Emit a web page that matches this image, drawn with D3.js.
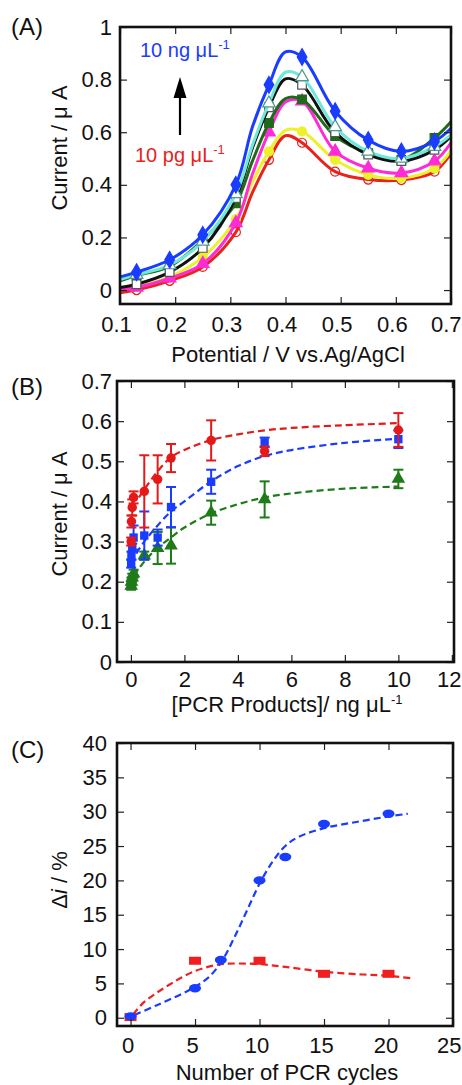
<!DOCTYPE html>
<html>
<head>
<meta charset="utf-8">
<title>PCR products voltammetry panels</title>
<script src="https://d3js.org/d3.v7.min.js"></script>
<style>
    body { margin: 0; background: #fff; }
    text { font-family: "Liberation Sans", Arial, sans-serif; fill: #111; }
    .tick text { font-size: 22px; }
    .axis-title { font-size: 22px; }
    .panel-label { font-size: 24px; }
</style>
</head>
<body>
<svg width="462" height="1085"></svg>
<script>
// ---------- panel A : DPV curves ----------
var potential = [0.10, 0.13, 0.19, 0.25, 0.31, 0.34, 0.37, 0.40, 0.43, 0.49, 0.55, 0.61, 0.67, 0.70];
var markerPotential = [0.13, 0.19, 0.25, 0.31, 0.37, 0.43, 0.49, 0.55, 0.61, 0.67];
var curveRed     = [-0.01, 0.000, 0.035, 0.088, 0.220, 0.370, 0.495, 0.587, 0.560, 0.450, 0.420, 0.418, 0.450, 0.520];
var curveYellow  = [0.000, 0.012, 0.050, 0.125, 0.270, 0.410, 0.527, 0.607, 0.603, 0.495, 0.438, 0.425, 0.463, 0.530];
var curveMagenta = [0.000, 0.010, 0.045, 0.100, 0.255, 0.440, 0.600, 0.715, 0.718, 0.527, 0.463, 0.445, 0.490, 0.560];
var curveGreen   = [0.035, 0.055, 0.090, 0.190, 0.330, 0.490, 0.635, 0.728, 0.725, 0.585, 0.520, 0.495, 0.578, 0.640];
var curveBlack   = [0.010, 0.022, 0.068, 0.160, 0.350, 0.540, 0.695, 0.803, 0.780, 0.600, 0.515, 0.490, 0.533, 0.585];
var curveCyan    = [0.040, 0.058, 0.095, 0.185, 0.365, 0.550, 0.710, 0.828, 0.810, 0.620, 0.527, 0.500, 0.545, 0.590];
var curveBlue    = [0.050, 0.068, 0.115, 0.210, 0.400, 0.620, 0.780, 0.905, 0.886, 0.680, 0.570, 0.527, 0.565, 0.615];
var aXTicks = [0.1, 0.2, 0.3, 0.4, 0.5, 0.6, 0.7];
var aXLabels = ["0.1", "0.2", "0.3", "0.4", "0.5", "0.6", "0.7"];
var aYTicks = [0, 0.2, 0.4, 0.6, 0.8, 1];
var aYLabels = ["0", "0.2", "0.4", "0.6", "0.8", "1"];

// ---------- panel B : calibration ----------
var concRed   = [0.01, 0.02, 0.05, 0.1, 0.5, 1, 1.5, 3, 5, 10];
var currRed   = [0.300, 0.350, 0.385, 0.410, 0.425, 0.455, 0.508, 0.552, 0.525, 0.578];
var errRed    = [0.010, 0.015, 0.020, 0.015, 0.090, 0.060, 0.035, 0.050, 0.012, 0.042];
var concBlue  = [0.01, 0.02, 0.05, 0.1, 0.5, 1, 1.5, 3, 5, 10];
var currBlue  = [0.245, 0.265, 0.285, 0.310, 0.315, 0.310, 0.386, 0.449, 0.547, 0.555];
var errBlue   = [0.010, 0.010, 0.010, 0.030, 0.060, 0.020, 0.050, 0.030, 0.012, 0.022];
var concGreen = [0.01, 0.02, 0.05, 0.1, 0.5, 1, 1.5, 3, 5, 10];
var currGreen = [0.190, 0.200, 0.210, 0.220, 0.265, 0.284, 0.290, 0.372, 0.405, 0.456];
var errGreen  = [0.010, 0.010, 0.010, 0.010, 0.010, 0.040, 0.045, 0.030, 0.045, 0.023];
var fitConcRed   = [0.3, 0.5, 1, 1.5, 2, 3, 4, 5, 6, 8, 10];
var fitRed       = [0.410, 0.430, 0.475, 0.510, 0.528, 0.553, 0.567, 0.577, 0.583, 0.590, 0.595];
var fitConcBlue  = [0.2, 0.5, 1, 1.5, 2, 3, 4, 5, 6, 8, 10];
var fitBlue      = [0.270, 0.300, 0.340, 0.375, 0.400, 0.450, 0.488, 0.513, 0.528, 0.546, 0.556];
var fitConcGreen = [0.1, 0.5, 1, 1.5, 2, 3, 4, 5, 6, 8, 10];
var fitGreen     = [0.215, 0.250, 0.285, 0.310, 0.335, 0.370, 0.393, 0.410, 0.420, 0.432, 0.437];
var bXTicks = [0, 2, 4, 6, 8, 10, 12];
var bXLabels = ["0", "2", "4", "6", "8", "10", "12"];
var bYTicks = [0, 0.1, 0.2, 0.3, 0.4, 0.5, 0.6, 0.7];
var bYLabels = ["0", "0.1", "0.2", "0.3", "0.4", "0.5", "0.6", "0.7"];

// ---------- panel C : PCR cycles ----------
var cyclesBlue = [0, 5, 7, 10, 12, 15, 20];
var deltaBlue  = [0.2, 4.3, 8.4, 20.0, 23.4, 28.2, 29.7];
var cyclesRed  = [0, 5, 10, 15, 20];
var deltaRed   = [0.1, 8.3, 8.3, 6.4, 6.4];
var fitCyclesBlue = [0.3, 2, 4, 5, 6, 7, 8, 9, 10, 11, 12, 13, 15, 17.5, 20, 21.5];
var fitDeltaBlue  = [0.4, 1.8, 3.5, 4.5, 5.8, 8.0, 11.5, 15.5, 19.5, 22.7, 25.0, 26.3, 27.6, 28.5, 29.3, 29.7];
var fitCyclesRed  = [0.2, 1, 2, 3, 4, 5, 6, 7, 8, 10, 12, 15, 18, 20, 22];
var fitDeltaRed   = [0.5, 2.2, 3.6, 4.8, 5.9, 6.8, 7.4, 7.8, 7.9, 7.8, 7.4, 6.7, 6.3, 6.1, 5.7];
var cXTicks = [0, 5, 10, 15, 20, 25];
var cXLabels = ["0", "5", "10", "15", "20", "25"];
var cYTicks = [0, 5, 10, 15, 20, 25, 30, 35, 40];
var cYLabels = ["0", "5", "10", "15", "20", "25", "30", "35", "40"];

var svg = d3.select("svg");

// frame + inward ticks on all four sides
function drawFrame(x, y, xt, xl, yt, yl, pads, labelShift) {
    var g = svg.append("g");
    var x0 = x.range()[0], x1 = x.range()[1], y0 = y.range()[0], y1 = y.range()[1];
    var bottom = g.append("g").attr("transform", "translate(0," + y0 + ")")
        .call(d3.axisBottom(x).tickValues(xt).tickSizeInner(-7).tickSizeOuter(0).tickPadding(pads[0])
            .tickFormat(function(d, i) { return xl[i]; }));
    g.append("g").attr("transform", "translate(0," + y1 + ")")
        .call(d3.axisTop(x).tickValues(xt).tickSizeInner(-7).tickSizeOuter(0).tickFormat(""));
    g.append("g").attr("transform", "translate(" + x0 + ",0)")
        .call(d3.axisLeft(y).tickValues(yt).tickSizeInner(-7).tickSizeOuter(0).tickPadding(pads[1])
            .tickFormat(function(d, i) { return yl[i]; }));
    g.append("g").attr("transform", "translate(" + x1 + ",0)")
        .call(d3.axisRight(y).tickValues(yt).tickSizeInner(-7).tickSizeOuter(0).tickFormat(""));
    g.selectAll(".domain").remove();
    g.selectAll(".tick line").attr("stroke", "#222").attr("stroke-width", 1.2);
    g.selectAll(".tick text").attr("fill", "#111").style("font-family", "Liberation Sans, Arial, sans-serif");
    // nudge bottom labels, keep the last one inside the page
    bottom.selectAll(".tick text").each(function(d) {
        var t = d3.select(this), w = this.getComputedTextLength();
        var cx = x(d) + labelShift;
        var over = cx + w / 2 - 461;
        t.attr("dx", labelShift - (over > 0 ? over : 0));
    });
    g.append("rect").attr("x", x0).attr("y", y1).attr("width", x1 - x0).attr("height", y0 - y1)
        .attr("fill", "none").attr("stroke", "#111").attr("stroke-width", 2.6);
    return g;
}

// ===== Panel A =====
var xA = d3.scaleLinear().domain([0.1, 0.7]).range([120, 451]);
var yA = d3.scaleLinear().domain([-0.053, 1]).range([304, 27]);

var seriesA = [
    {v: curveRed,     color: "#e8231c", shape: "circle",   fill: "none",    stroke: "#e8231c"},
    {v: curveYellow,  color: "#eef02a", shape: "circle",   fill: "#eef02a", stroke: "#eef02a"},
    {v: curveMagenta, color: "#ff2bd6", shape: "triangle", fill: "#ff2bd6", stroke: "#ff2bd6"},
    {v: curveGreen,   color: "#1f6b1a", shape: "square",   fill: "#1f6b1a", stroke: "#1f6b1a"},
    {v: curveBlack,   color: "#111111", shape: "square",   fill: "#ffffff", stroke: "#555"},
    {v: curveCyan,    color: "#6ee8d8", shape: "triangle", fill: "#ffffff", stroke: "#4b9a90"},
    {v: curveBlue,    color: "#1a3cff", shape: "diamond",  fill: "#1a3cff", stroke: "#1a3cff"}
];
var shapeOf = {circle: d3.symbolCircle, triangle: d3.symbolTriangle, square: d3.symbolSquare, diamond: d3.symbolDiamond};
var sizeOf = {circle: 64, triangle: 70, square: 74, diamond: 80};

var lineA = d3.line()
    .x(function(d) { return xA(d[0]); })
    .y(function(d) { return yA(d[1]); })
    .curve(d3.curveCatmullRom.alpha(0.5));

var gA = svg.append("g");
seriesA.forEach(function(s) {
    var pts = potential.map(function(p, i) { return [p, s.v[i]]; });
    gA.append("path").datum(pts).attr("d", lineA)
        .attr("fill", "none").attr("stroke", s.color).attr("stroke-width", 3);
    gA.selectAll(null)
        .data(pts.filter(function(d) { return markerPotential.indexOf(d[0]) >= 0; }))
        .enter().append("path")
        .attr("transform", function(d) { return "translate(" + xA(d[0]) + "," + yA(d[1]) + ")"; })
        .attr("d", d3.symbol().type(shapeOf[s.shape]).size(sizeOf[s.shape]))
        .attr("fill", s.fill).attr("stroke", s.stroke).attr("stroke-width", 1.2);
});
drawFrame(xA, yA, aXTicks, aXLabels, aYTicks, aYLabels, [12, 8], -4);

svg.append("text").attr("class", "panel-label").attr("x", 11).attr("y", 35).text("(A)");
svg.append("text").attr("class", "axis-title").attr("x", 288).attr("y", 362)
    .attr("text-anchor", "middle").text("Potential / V vs.Ag/AgCl");
svg.append("text").attr("class", "axis-title")
    .attr("transform", "translate(67,148) rotate(-90)").attr("text-anchor", "middle")
    .text("Current / μ A");

var ng = svg.append("text").attr("x", 140).attr("y", 57).style("font-size", "20px").style("fill", "#1a3cff");
ng.append("tspan").text("10 ng μL");
ng.append("tspan").attr("dy", -8).style("font-size", "13px").text("-1");
var pg = svg.append("text").attr("x", 135).attr("y", 162).style("font-size", "20px").style("fill", "#e8231c");
pg.append("tspan").text("10 pg μL");
pg.append("tspan").attr("dy", -8).style("font-size", "13px").text("-1");
svg.append("line").attr("x1", 180).attr("y1", 135).attr("x2", 180).attr("y2", 95)
    .attr("stroke", "#000").attr("stroke-width", 2.2);
svg.append("path").attr("d", "M173.5,98 L186.5,98 L180,77 Z").attr("fill", "#000");

// ===== Panel B =====
var xB = d3.scaleLinear().domain([-0.52, 12.08]).range([117, 454]);
var yB = d3.scaleLinear().domain([0, 0.7]).range([662, 381]);
var gB = svg.append("g");

var fitsB = [
    {x: fitConcRed, y: fitRed, color: "#e41a1a"},
    {x: fitConcBlue, y: fitBlue, color: "#1a3cff"},
    {x: fitConcGreen, y: fitGreen, color: "#1f7a1a"}
];
var lineB = d3.line().x(function(d) { return xB(d[0]); }).y(function(d) { return yB(d[1]); })
    .curve(d3.curveCatmullRom.alpha(0.5));
fitsB.forEach(function(f) {
    gB.append("path").datum(f.x.map(function(c, i) { return [c, f.y[i]]; }))
        .attr("d", lineB).attr("fill", "none").attr("stroke", f.color)
        .attr("stroke-width", 2.2).attr("stroke-dasharray", "7,4");
});

var pointsB = [
    {x: concGreen, y: currGreen, e: errGreen, color: "#1f7a1a", shape: "triangle"},
    {x: concBlue, y: currBlue, e: errBlue, color: "#1a3cff", shape: "square"},
    {x: concRed, y: currRed, e: errRed, color: "#e41a1a", shape: "circle"}
];
pointsB.forEach(function(s) {
    var pts = s.x.map(function(c, i) { return {c: c, v: s.y[i], e: s.e[i]}; });
    var bars = gB.selectAll(null).data(pts).enter().append("g").attr("stroke", s.color).attr("stroke-width", 2);
    bars.append("line")
        .attr("x1", function(d) { return xB(d.c); }).attr("x2", function(d) { return xB(d.c); })
        .attr("y1", function(d) { return yB(d.v - d.e); }).attr("y2", function(d) { return yB(d.v + d.e); });
    bars.append("line")
        .attr("x1", function(d) { return xB(d.c) - 5; }).attr("x2", function(d) { return xB(d.c) + 5; })
        .attr("y1", function(d) { return yB(d.v - d.e); }).attr("y2", function(d) { return yB(d.v - d.e); });
    bars.append("line")
        .attr("x1", function(d) { return xB(d.c) - 5; }).attr("x2", function(d) { return xB(d.c) + 5; })
        .attr("y1", function(d) { return yB(d.v + d.e); }).attr("y2", function(d) { return yB(d.v + d.e); });
    gB.selectAll(null).data(pts).enter().append("path")
        .attr("transform", function(d) { return "translate(" + xB(d.c) + "," + yB(d.v) + ")"; })
        .attr("d", d3.symbol().type(shapeOf[s.shape]).size(s.shape === "triangle" ? 80 : 70))
        .attr("fill", s.color);
});
drawFrame(xB, yB, bXTicks, bXLabels, bYTicks, bYLabels, [9, 5], 0);

svg.append("text").attr("class", "panel-label").attr("x", 11).attr("y", 395).text("(B)");
var bt = svg.append("text").attr("class", "axis-title").attr("x", 287).attr("y", 712).attr("text-anchor", "middle");
bt.append("tspan").text("[PCR Products]/ ng μL");
bt.append("tspan").attr("dy", -8).style("font-size", "13px").text("-1");
svg.append("text").attr("class", "axis-title")
    .attr("transform", "translate(67,514) rotate(-90)").attr("text-anchor", "middle")
    .text("Current / μ A");

// ===== Panel C =====
var xC = d3.scaleLinear().domain([-1.05, 25]).range([117, 453]);
var yC = d3.scaleLinear().domain([-1.2, 40]).range([1026, 743]);
var gC = svg.append("g");
var lineC = d3.line().x(function(d) { return xC(d[0]); }).y(function(d) { return yC(d[1]); })
    .curve(d3.curveCatmullRom.alpha(0.5));

gC.append("path").datum(fitCyclesRed.map(function(c, i) { return [c, fitDeltaRed[i]]; }))
    .attr("d", lineC).attr("fill", "none").attr("stroke", "#f02020")
    .attr("stroke-width", 2.2).attr("stroke-dasharray", "7,4");
gC.append("path").datum(fitCyclesBlue.map(function(c, i) { return [c, fitDeltaBlue[i]]; }))
    .attr("d", lineC).attr("fill", "none").attr("stroke", "#1a3cff")
    .attr("stroke-width", 2.2).attr("stroke-dasharray", "7,4");

gC.selectAll(null).data(cyclesRed.map(function(c, i) { return [c, deltaRed[i]]; }))
    .enter().append("rect")
    .attr("x", function(d) { return xC(d[0]) - 6; }).attr("y", function(d) { return yC(d[1]) - 4; })
    .attr("width", 12).attr("height", 8).attr("fill", "#f01e1e");
gC.selectAll(null).data(cyclesBlue.map(function(c, i) { return [c, deltaBlue[i]]; }))
    .enter().append("ellipse")
    .attr("cx", function(d) { return xC(d[0]); }).attr("cy", function(d) { return yC(d[1]); })
    .attr("rx", 6).attr("ry", 4.2).attr("fill", "#1a3cff");
drawFrame(xC, yC, cXTicks, cXLabels, cYTicks, cYLabels, [11, 10], -3);

svg.append("text").attr("class", "panel-label").attr("x", 11).attr("y", 758).text("(C)");
svg.append("text").attr("class", "axis-title").attr("x", 287).attr("y", 1080)
    .attr("text-anchor", "middle").text("Number of PCR cycles");
var ct = svg.append("text").attr("class", "axis-title")
    .attr("transform", "translate(67,880) rotate(-90)").attr("text-anchor", "middle");
ct.append("tspan").text("Δ");
ct.append("tspan").style("font-style", "italic").text("i");
ct.append("tspan").text(" / %");
</script>
</body>
</html>
